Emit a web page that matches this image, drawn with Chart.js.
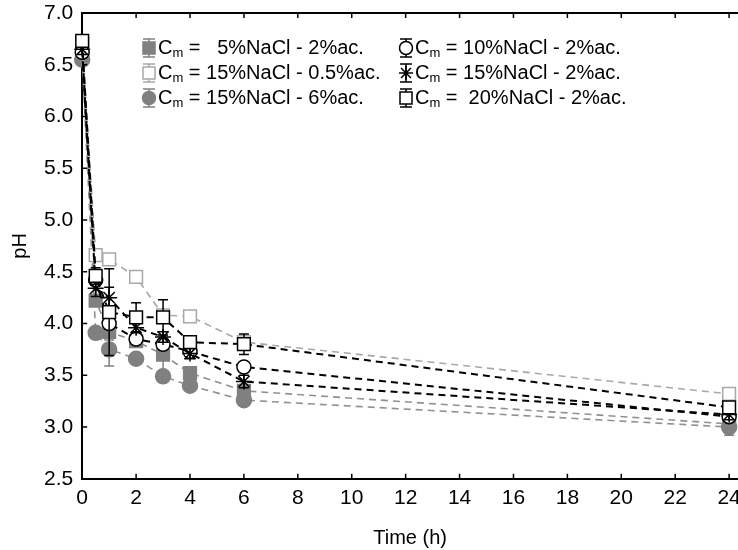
<!DOCTYPE html>
<html><head><meta charset="utf-8">
<script src="https://cdn.jsdelivr.net/npm/chart.js@4.4.1/dist/chart.umd.min.js"></script>
<style>html,body{margin:0;padding:0;background:#fff}</style>
</head><body>
<canvas id="c" width="738" height="550"></canvas>
<script>
// ---- data ----
const timeH = [0, 0.5, 1, 2, 3, 4, 6, 24];
const ph5_2   = [6.58, 4.22, 3.92, 3.83, 3.70, 3.52, 3.35, 3.03];
const err5_2  = [0.05, 0.05, 0.08, 0.05, 0.18, 0.05, 0.05, 0.05];
const ph10_2  = [6.62, 4.42, 4.00, 3.85, 3.80, 3.73, 3.58, 3.10];
const err10_2 = [0.05, 0.05, 0.05, 0.04, 0.05, 0.05, 0.05, 0.05];
const ph15_05 = [6.70, 4.66, 4.62, 4.45, 4.08, 4.07, 3.82, 3.32];
const err15_05= [0.04, 0.04, 0.04, 0.04, 0.04, 0.04, 0.04, 0.04];
const ph15_2  = [6.65, 4.34, 4.25, 3.96, 3.87, 3.71, 3.44, 3.12];
const err15_2 = [0.05, 0.08, 0.10, 0.05, 0.05, 0.05, 0.06, 0.05];
const ph15_6  = [6.55, 3.91, 3.75, 3.66, 3.49, 3.40, 3.26, 3.00];
const err15_6 = [0.05, 0.05, 0.16, 0.05, 0.05, 0.05, 0.05, 0.08];
const ph20_2  = [6.73, 4.46, 4.11, 4.06, 4.06, 3.82, 3.80, 3.19];
const err20_2 = [0.05, 0.08, 0.42, 0.14, 0.17, 0.05, 0.10, 0.05];
const xTicks = [0, 2, 4, 6, 8, 10, 12, 14, 16, 18, 20, 22, 24];
const yTicks = [2.5, 3.0, 3.5, 4.0, 4.5, 5.0, 5.5, 6.0, 6.5, 7.0];
const legendTexts = [
  " =   5%NaCl - 2%ac.",
  " = 10%NaCl - 2%ac.",
  " = 15%NaCl - 0.5%ac.",
  " = 15%NaCl - 2%ac.",
  " = 15%NaCl - 6%ac.",
  " =  20%NaCl - 2%ac."
];

const FONT = "'Liberation Sans', Arial, sans-serif";
const GRAY = '#808080', LGRAY = '#a8a8a8', GLINE = '#909090', BLACK = '#000';

function pts(arr){ return timeH.map((t,i)=>({x:t, y:arr[i]})); }
function mk(label, vals, errs, o){
  return Object.assign({
    label, data: pts(vals), errors: errs,
    borderDash: [7,5], tension: 0, fill: false, clip: false,
    pointBorderWidth: 1.5, pointHoverRadius: 0
  }, o);
}

const datasets = [
  mk('5%NaCl - 2%ac.', ph5_2, err5_2, {order:4, borderColor:GLINE, borderWidth:1.6,
     pointStyle:'rect', pointRadius:9, pointBackgroundColor:GRAY, pointBorderColor:GRAY, errColor:GRAY}),
  mk('10%NaCl - 2%ac.', ph10_2, err10_2, {order:2, borderColor:BLACK, borderWidth:2,
     pointStyle:'circle', pointRadius:7, pointBackgroundColor:'#fff', pointBorderColor:BLACK, errColor:BLACK}),
  mk('15%NaCl - 0.5%ac.', ph15_05, err15_05, {order:3, borderColor:LGRAY, borderWidth:1.6,
     pointStyle:'rect', pointRadius:9, pointBackgroundColor:'#fff', pointBorderColor:LGRAY, errColor:LGRAY}),
  mk('15%NaCl - 2%ac.', ph15_2, err15_2, {order:1, borderColor:BLACK, borderWidth:2,
     pointStyle:'star', pointRadius:8, pointBackgroundColor:'#fff', pointBorderColor:BLACK, errColor:BLACK}),
  mk('15%NaCl - 6%ac.', ph15_6, err15_6, {order:5, borderColor:GLINE, borderWidth:1.6,
     pointStyle:'circle', pointRadius:7.5, pointBackgroundColor:GRAY, pointBorderColor:GRAY, errColor:GRAY}),
  mk('20%NaCl - 2%ac.', ph20_2, err20_2, {order:0, borderColor:BLACK, borderWidth:2,
     pointStyle:'rect', pointRadius:9, pointBackgroundColor:'#fff', pointBorderColor:BLACK, errColor:BLACK})
];

// error bars, drawn just before each dataset so z-order follows the dataset
const errorBars = {
  id: 'errorBars',
  beforeDatasetDraw(chart, args){
    const ds = chart.data.datasets[args.index];
    if (!ds.errors) return;
    const ys = chart.scales.y, ctx = chart.ctx;
    ctx.save();
    ctx.strokeStyle = ds.errColor; ctx.lineWidth = 1.5; ctx.setLineDash([]);
    args.meta.data.forEach((p, i) => {
      const v = ds.data[i].y, e = ds.errors[i];
      const y1 = ys.getPixelForValue(v + e), y2 = ys.getPixelForValue(v - e);
      ctx.beginPath();
      ctx.moveTo(p.x, y1); ctx.lineTo(p.x, y2);
      ctx.moveTo(p.x - 5, y1); ctx.lineTo(p.x + 5, y1);
      ctx.moveTo(p.x - 5, y2); ctx.lineTo(p.x + 5, y2);
      ctx.stroke();
    });
    ctx.restore();
  }
};

// inward tick marks + top frame line
const frame = {
  id: 'frame',
  afterDraw(chart){
    const {ctx, chartArea:a, scales:{x, y}} = chart;
    ctx.save();
    ctx.strokeStyle = '#000'; ctx.lineWidth = 2; ctx.setLineDash([]);
    ctx.beginPath(); ctx.moveTo(a.left, a.top); ctx.lineTo(a.right, a.top); ctx.stroke();
    ctx.lineWidth = 1.5;
    ctx.beginPath();
    xTicks.forEach(v => {
      const px = x.getPixelForValue(v);
      ctx.moveTo(px, a.bottom); ctx.lineTo(px, a.bottom - 5);
      ctx.moveTo(px, a.top); ctx.lineTo(px, a.top + 5);
    });
    yTicks.forEach(v => {
      const py = y.getPixelForValue(v);
      ctx.moveTo(a.left, py); ctx.lineTo(a.left + 5, py);
    });
    ctx.stroke();
    ctx.restore();
  }
};

function drawMarker(ctx, ds, cx, cy){
  ctx.save();
  ctx.setLineDash([]);
  ctx.strokeStyle = ds.errColor; ctx.lineWidth = 1.5;
  ctx.beginPath();
  ctx.moveTo(cx, cy - 9); ctx.lineTo(cx, cy + 9);
  ctx.moveTo(cx - 6, cy - 9); ctx.lineTo(cx + 6, cy - 9);
  ctx.moveTo(cx - 6, cy + 9); ctx.lineTo(cx + 6, cy + 9);
  ctx.stroke();
  ctx.fillStyle = ds.pointBackgroundColor; ctx.strokeStyle = ds.pointBorderColor;
  ctx.lineWidth = 1.5;
  if (ds.pointStyle === 'rect') {
    ctx.beginPath(); ctx.rect(cx - 6, cy - 6, 12, 12); ctx.fill(); ctx.stroke();
  } else if (ds.pointStyle === 'circle') {
    ctx.beginPath(); ctx.arc(cx, cy, 6.5, 0, Math.PI*2); ctx.fill(); ctx.stroke();
  } else {
    ctx.beginPath();
    for (let k = 0; k < 4; k++) {
      const ang = k * Math.PI / 4;
      ctx.moveTo(cx - 7*Math.cos(ang), cy - 7*Math.sin(ang));
      ctx.lineTo(cx + 7*Math.cos(ang), cy + 7*Math.sin(ang));
    }
    ctx.stroke();
  }
  ctx.restore();
}

const legendBox = {
  id: 'legendBox',
  afterDraw(chart){
    const ctx = chart.ctx;
    const cols = [{mx:149, tx:158}, {mx:406, tx:415}];
    const rows = [48, 73, 98];
    ctx.save();
    ctx.textBaseline = 'middle';
    chart.data.datasets.forEach((ds, i) => {
      const c = cols[i % 2], ry = rows[Math.floor(i / 2)];
      drawMarker(ctx, ds, c.mx, ry);
      ctx.fillStyle = '#000';
      ctx.font = '20px ' + FONT;
      ctx.fillText('C', c.tx, ry);
      let w = ctx.measureText('C').width;
      ctx.font = '13px ' + FONT;
      ctx.fillText('m', c.tx + w, ry + 5);
      w += ctx.measureText('m').width;
      ctx.font = '20px ' + FONT;
      ctx.fillText(legendTexts[i], c.tx + w, ry);
    });
    ctx.restore();
  }
};

new Chart(document.getElementById('c'), {
  type: 'line',
  data: { datasets },
  options: {
    responsive: false, animation: false, devicePixelRatio: 1,
    layout: { autoPadding: false, padding: { left: 4, top: 0, right: 0, bottom: 0 } },
    plugins: { legend: { display: false }, tooltip: { enabled: false } },
    scales: {
      x: {
        type: 'linear', min: 0, max: 24.33,
        afterBuildTicks: s => { s.ticks = xTicks.map(v => ({ value: v })); },
        afterFit: s => { s.paddingRight = 0; },
        grid: { display: false, drawTicks: false },
        border: { display: true, color: '#000', width: 2 },
        ticks: { color: '#000', font: { family: FONT, size: 21 }, padding: 7, maxRotation: 0, autoSkip: false },
        title: { display: true, text: 'Time (h)', color: '#000', font: { family: FONT, size: 20 }, padding: { top: 8, bottom: 0 } }
      },
      y: {
        min: 2.5, max: 7.0,
        afterBuildTicks: s => { s.ticks = yTicks.map(v => ({ value: v })); },
        afterFit: s => { s.paddingTop = 13; },
        grid: { display: false, drawTicks: false },
        border: { display: true, color: '#000', width: 2 },
        ticks: { color: '#000', font: { family: FONT, size: 21 }, padding: 9, callback: v => Number(v).toFixed(1) },
        title: { display: true, text: 'pH', color: '#000', font: { family: FONT, size: 20 }, padding: { top: 4, bottom: 3 } }
      }
    }
  },
  plugins: [errorBars, frame, legendBox]
});
</script>
</body></html>
